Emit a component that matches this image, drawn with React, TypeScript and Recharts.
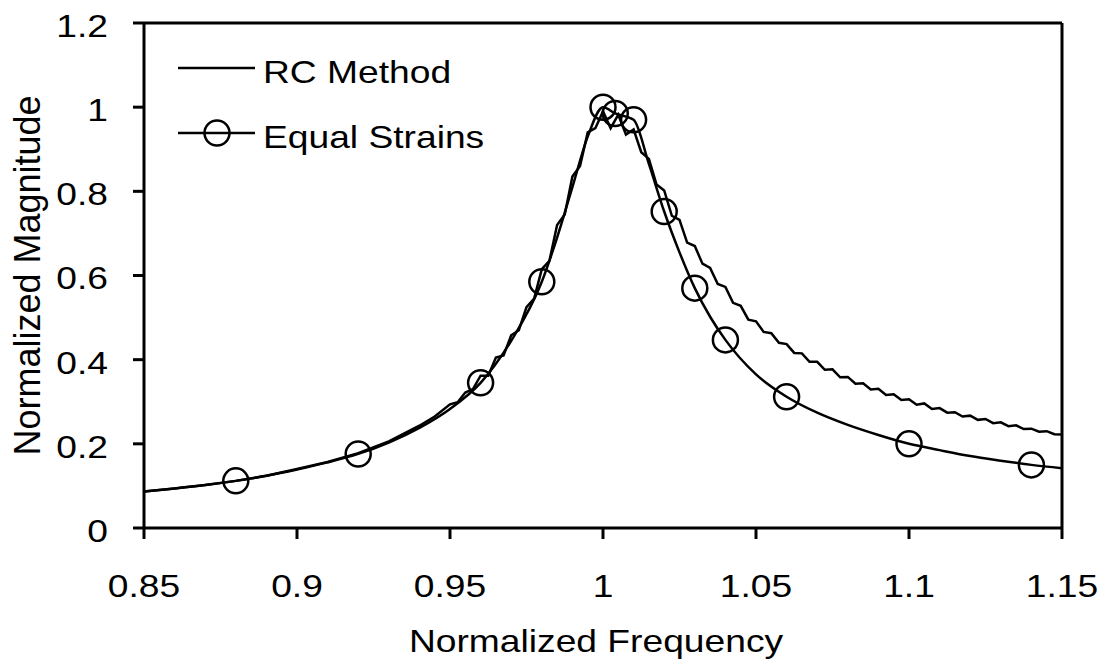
import React from 'react';
import { ComposedChart, Line, Scatter, XAxis, YAxis, ReferenceLine, Legend } from 'recharts';

const FONT = '"Liberation Sans", Arial, sans-serif';
const SX = 1.2;
const FS = 31;

const xTicks = [0.85, 0.9, 0.95, 1, 1.05, 1.1, 1.15];
const xTickLabels = ['0.85', '0.9', '0.95', '1', '1.05', '1.1', '1.15'];
const yTicks = [0, 0.2, 0.4, 0.6, 0.8, 1, 1.2];
const yTickLabels = ['0', '0.2', '0.4', '0.6', '0.8', '1', '1.2'];

const seriesNames = ['RC Method', 'Equal Strains'];
const xTitle = 'Normalized Frequency';
const yTitle = 'Normalized Magnitude';

// Equal Strains smooth curve
const esFreq = [0.85, 0.86, 0.87, 0.88, 0.89, 0.90, 0.91, 0.92, 0.93, 0.94, 0.95, 0.96, 0.97, 0.98, 0.985, 0.99, 0.995, 1.0, 1.004, 1.01, 1.015, 1.02, 1.025, 1.03, 1.035, 1.04, 1.05, 1.06, 1.07, 1.08, 1.09, 1.10, 1.11, 1.12, 1.13, 1.14, 1.15];
const esMag = [0.087, 0.094, 0.102, 0.112, 0.124, 0.139, 0.156, 0.176, 0.203, 0.238, 0.283, 0.345, 0.445, 0.585, 0.69, 0.81, 0.93, 1.0, 0.985, 0.97, 0.865, 0.752, 0.655, 0.57, 0.502, 0.447, 0.365, 0.312, 0.274, 0.245, 0.221, 0.200, 0.185, 0.171, 0.160, 0.150, 0.142];

// Equal Strains markers
const markerFreq = [0.88, 0.92, 0.96, 0.98, 1.0, 1.004, 1.01, 1.02, 1.03, 1.04, 1.06, 1.10, 1.14];
const markerMag = [0.112, 0.176, 0.345, 0.585, 1.0, 0.985, 0.97, 0.752, 0.57, 0.447, 0.312, 0.200, 0.150];

// RC Method (rippled) curve
const rcFreq = [0.85, 0.86, 0.87, 0.88, 0.89, 0.90, 0.91, 0.92, 0.93, 0.94, 0.945,
  0.95, 0.9525, 0.955, 0.9575, 0.96, 0.9625, 0.965, 0.9675, 0.97, 0.9725, 0.975, 0.9775,
  0.98, 0.9825, 0.985, 0.9875, 0.99, 0.9925, 0.995, 0.9975, 1.0, 1.0025, 1.005, 1.0075,
  1.01, 1.0125, 1.015, 1.0175, 1.02, 1.0225, 1.025, 1.0275, 1.03, 1.0325, 1.035, 1.0375,
  1.04, 1.0425, 1.045, 1.0475, 1.05, 1.0525, 1.055, 1.0575, 1.06, 1.0625, 1.065, 1.0675,
  1.07, 1.0725, 1.075, 1.0775, 1.08, 1.0825, 1.085, 1.0875, 1.09, 1.0925, 1.095, 1.0975,
  1.10, 1.1025, 1.105, 1.1075, 1.11, 1.1125, 1.115, 1.1175, 1.12, 1.1225, 1.125, 1.1275,
  1.13, 1.1325, 1.135, 1.1375, 1.14, 1.1425, 1.145, 1.1475, 1.15];
const rcMag = [0.087, 0.094, 0.102, 0.112, 0.124, 0.140, 0.157, 0.178, 0.206, 0.243, 0.265,
  0.294, 0.299, 0.322, 0.330, 0.362, 0.362, 0.405, 0.41, 0.458, 0.47, 0.525, 0.545,
  0.615, 0.635, 0.72, 0.745, 0.835, 0.86, 0.94, 0.95, 0.99, 0.95, 0.982, 0.935,
  0.947, 0.893, 0.877, 0.816, 0.802, 0.742, 0.732, 0.678, 0.67, 0.628, 0.618, 0.58,
  0.573, 0.535, 0.528, 0.495, 0.491, 0.466, 0.463, 0.44, 0.437, 0.416, 0.415, 0.395,
  0.395, 0.376, 0.377, 0.358, 0.359, 0.343, 0.344, 0.329, 0.331, 0.316, 0.318, 0.304,
  0.306, 0.293, 0.296, 0.283, 0.285, 0.274, 0.275, 0.265, 0.267, 0.257, 0.259, 0.249,
  0.251, 0.242, 0.244, 0.235, 0.236, 0.229, 0.230, 0.223, 0.222];

const esData = esFreq.map((f, i) => ({ f, m: esMag[i] }));
const markerData = markerFreq.map((f, i) => ({ f, m: markerMag[i] }));
const rcData = rcFreq.map((f, i) => ({ f, m: rcMag[i] }));

function labelFor(value: number, ticks: number[], labels: string[]) {
  let best = 0;
  for (let i = 0; i < ticks.length; i++) {
    if (Math.abs(ticks[i] - value) < Math.abs(ticks[best] - value)) best = i;
  }
  return labels[best];
}

function XTick(props: any) {
  const { x, y, payload } = props;
  return (
    <g transform={`translate(${x},${y})`}>
      <text textAnchor="middle" dy="0.71em" transform={`scale(${SX},1)`} fontSize={FS} fontFamily={FONT} fill="#000">
        {labelFor(payload.value, xTicks, xTickLabels)}
      </text>
    </g>
  );
}

function YTick(props: any) {
  const { x, y, payload } = props;
  return (
    <g transform={`translate(${x},${y})`}>
      <text textAnchor="end" dy="0.45em" transform={`scale(${SX},1)`} fontSize={FS} fontFamily={FONT} fill="#000">
        {labelFor(payload.value, yTicks, yTickLabels)}
      </text>
    </g>
  );
}

function XTitle(props: any) {
  const vb = props.viewBox || { x: 144, y: 528, width: 918, height: 138 };
  const cx = vb.x + vb.width / 2 - 7;
  const by = vb.y + 124;
  return (
    <g transform={`translate(${cx},${by})`}>
      <text textAnchor="middle" transform={`scale(${SX},1)`} fontSize={FS} fontFamily={FONT} fill="#000">{xTitle}</text>
    </g>
  );
}

function YTitle(props: any) {
  const vb = props.viewBox || { x: 0, y: 23, width: 144, height: 505 };
  const cx = vb.x + 27;
  const cy = vb.y + vb.height / 2;
  return (
    <text transform={`translate(${cx},${cy}) rotate(-90)`} textAnchor="middle" dy="0.36em" fontSize={36} fontFamily={FONT} fill="#000">{yTitle}</text>
  );
}

function LegendContent() {
  return (
    <svg width={400} height={130} style={{ overflow: 'visible' }}>
      <line x1={8} y1={28} x2={85} y2={28} stroke="#000" strokeWidth={2.5} />
      <g transform="translate(93,43)">
        <text transform={`scale(${SX},1)`} fontSize={FS} fontFamily={FONT} fill="#000">{seriesNames[0]}</text>
      </g>
      <line x1={8} y1={93} x2={85} y2={93} stroke="#000" strokeWidth={2.5} />
      <circle cx={47} cy={93} r={12.5} fill="none" stroke="#000" strokeWidth={2.5} />
      <g transform="translate(93,108)">
        <text transform={`scale(${SX},1)`} fontSize={FS} fontFamily={FONT} fill="#000">{seriesNames[1]}</text>
      </g>
    </svg>
  );
}

const circleShape = (p: any) => (
  <circle cx={p.cx} cy={p.cy} r={12.5} fill="none" stroke="#000" strokeWidth={2.5} />
);

export default function App() {
  return (
    <div style={{ position: 'absolute', left: 0, top: 0, background: '#fff' }}>
      <ComposedChart width={1107} height={666} margin={{ top: 23, right: 45, bottom: 0, left: 0 }}>
        <XAxis
          dataKey="f"
          type="number"
          domain={[0.85, 1.15]}
          ticks={xTicks}
          allowDataOverflow
          height={138}
          tickSize={11}
          tickMargin={36}
          axisLine={{ stroke: '#000', strokeWidth: 3 }}
          tickLine={{ stroke: '#000', strokeWidth: 3 }}
          tick={<XTick />}
          label={<XTitle />}
        />
        <YAxis
          dataKey="m"
          type="number"
          domain={[0, 1.2]}
          ticks={yTicks}
          allowDataOverflow
          width={144}
          tickSize={11}
          tickMargin={25}
          axisLine={{ stroke: '#000', strokeWidth: 3 }}
          tickLine={{ stroke: '#000', strokeWidth: 3 }}
          tick={<YTick />}
          label={<YTitle />}
        />
        <ReferenceLine y={1.2} stroke="#000" strokeWidth={3} />
        <ReferenceLine x={1.15} stroke="#000" strokeWidth={3} />
        <Legend
          layout="vertical"
          align="center"
          verticalAlign="middle"
          content={<LegendContent />}
          wrapperStyle={{ left: 170, top: 40, width: 400, height: 130 }}
        />
        <Line data={rcData} dataKey="m" type="linear" stroke="#000" strokeWidth={2.5} dot={false} activeDot={false} isAnimationActive={false} name={seriesNames[0]} />
        <Line data={esData} dataKey="m" type="monotone" stroke="#000" strokeWidth={2.5} dot={false} activeDot={false} isAnimationActive={false} name={seriesNames[1]} />
        <Scatter data={markerData} dataKey="m" shape={circleShape} isAnimationActive={false} legendType="none" />
      </ComposedChart>
    </div>
  );
}
